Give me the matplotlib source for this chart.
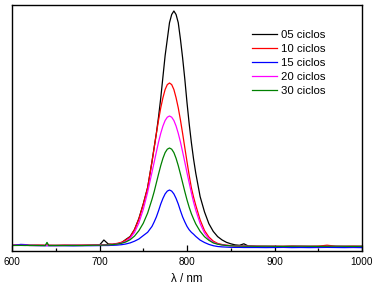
import matplotlib
matplotlib.use("Agg")
import matplotlib.pyplot as plt
from matplotlib.ticker import MultipleLocator

plt.rcParams['font.family'] = ['Liberation Sans', 'DejaVu Sans']

wavelength = [600, 610, 615, 620, 630, 638, 640, 642, 650, 660, 670, 680, 690,
              700, 705, 710, 715, 720, 725, 730, 735, 740, 745, 750, 755, 760,
              762.5, 765, 767.5, 770, 772.5, 775, 777.5, 780, 782.5, 785, 787.5, 790,
              792.5, 795, 797.5, 800, 802.5, 805, 807.5,
              810, 815, 820, 825, 830, 835, 840, 845, 850, 855, 860, 865, 870,
              880, 890, 900, 910, 920, 930, 940, 950, 960, 970, 980, 990, 1000]

c05 = [0.6, 0.8, 0.7, 0.5, 0.6, 0.5, 0.6, 0.5, 0.4, 0.6, 0.5, 0.6, 0.7,
       0.9, 6.0, 2.0, 1.6, 2.1, 3.1, 6.5, 9.5, 16.5, 27.5, 42.0, 58.5, 84.5,
       98.7, 112.8, 129.3, 148.0, 169.2, 190.4, 206.8, 223.3, 231.5, 235.0, 231.5, 223.3,
       206.8, 188.0, 166.9, 143.4, 122.2, 103.4, 87.0,
       72.9, 49.4, 34.1, 22.3, 14.6, 9.4, 6.1, 3.7, 2.2, 1.1, 0.7, 2.2, 0.0,
       -0.4, -0.5, -0.6, -0.5, -0.4, -0.6, -0.5, -0.4, -0.5, -0.6, -0.5, -0.4, -0.5]

c10 = [0.9, 1.0, 1.1, 0.8, 0.9, 0.8, 0.9, 0.8, 0.7, 0.9, 0.8, 0.9, 1.0,
       1.1, 1.3, 1.5, 1.9, 2.6, 3.7, 6.0, 9.0, 16.3, 26.9, 41.6, 58.2, 84.3,
       98.3, 112.5, 126.0, 138.2, 148.3, 156.5, 161.4, 163.0, 161.4, 156.5, 148.3, 138.2,
       126.0, 112.5, 98.3, 84.3, 70.7, 58.2, 48.9,
       40.8, 26.1, 15.5, 9.0, 4.9, 2.6, 1.5, 0.8, 0.4, 0.2, 0.0, -0.1, -0.2,
       -0.2, -0.3, -0.2, -0.3, -0.1, -0.2, -0.3, -0.2, 0.8, -0.2, -0.3, -0.2, -0.3]

c15 = [0.4, 1.6, 1.4, 0.6, 0.4, 0.3, 0.4, 0.3, 0.4, 0.3, 0.2, 0.3, 0.3,
       0.4, 0.5, 0.5, 0.7, 0.9, 1.3, 2.0, 3.1, 4.8, 7.0, 10.4, 13.7, 19.6,
       24.1, 29.1, 35.3, 42.0, 47.6, 52.1, 54.9, 56.0, 54.9, 52.1, 47.6, 42.0,
       35.3, 29.1, 24.1, 19.6, 16.2, 13.7, 11.8,
       9.6, 5.9, 3.5, 1.6, 0.3, -0.5, -0.9, -1.1, -1.3, -1.4, -1.4, -1.5, -1.5,
       -1.5, -1.6, -1.5, -1.4, -1.6, -1.5, -1.6, -1.5, -1.4, -1.5, -1.6, -1.5, -1.6]

c20 = [0.6, 0.7, 0.8, 0.6, 0.5, 0.6, 0.5, 0.6, 0.5, 0.6, 0.7, 0.6, 0.7,
       0.9, 1.0, 1.2, 1.5, 2.0, 2.9, 4.5, 7.8, 13.6, 23.1, 36.5, 53.8, 73.9,
       83.9, 94.1, 104.0, 112.7, 120.0, 125.5, 128.8, 130.0, 128.8, 125.5, 120.0, 112.7,
       104.0, 94.1, 83.9, 73.3, 63.1, 53.2, 43.9,
       35.9, 22.5, 13.0, 7.2, 3.6, 2.0, 1.1, 0.6, 0.3, 0.1, 0.0, -0.1, -0.2,
       -0.3, -0.4, -0.3, -0.5, -0.4, -0.3, -0.4, -0.5, -0.4, -0.3, -0.4, -0.5, -0.4]

c30 = [0.5, 0.6, 0.5, 0.6, 0.5, 0.5, 3.6, 0.5, 0.6, 0.5, 0.6, 0.5, 0.7,
       0.8, 0.9, 1.1, 1.4, 1.9, 2.7, 4.0, 6.3, 9.9, 15.3, 22.7, 32.9, 46.7,
       54.4, 63.2, 72.0, 80.4, 87.7, 93.4, 96.8, 98.0, 96.8, 93.4, 87.7, 80.4,
       72.0, 63.2, 54.4, 46.1, 38.7, 32.3, 27.0,
       22.1, 14.7, 9.3, 5.7, 3.1, 1.8, 1.0, 0.5, 0.2, 0.0, -0.1, -0.2, -0.2,
       -0.3, -0.2, -0.3, -0.4, -0.3, -0.2, -0.3, -0.4, -0.3, -0.2, -0.3, -0.4, -0.3]

series = [("05 ciclos", c05, "black"),
          ("10 ciclos", c10, "#ff0000"),
          ("15 ciclos", c15, "#0000ff"),
          ("20 ciclos", c20, "#ff00ff"),
          ("30 ciclos", c30, "#008000")]

fig = plt.figure(figsize=(3.78, 2.90), dpi=100)
ax = fig.add_axes([12 / 378, 1 - 251 / 290, 350 / 378, 246 / 290])

for label, vals, col in series:
    ax.plot(wavelength, vals, color=col, lw=0.9, label=label)

ax.set_xlim(600, 1000)
ax.set_ylim(-5, 241)
ax.xaxis.set_major_locator(MultipleLocator(100))
ax.xaxis.set_minor_locator(MultipleLocator(50))
ax.set_yticks([])
ax.tick_params(axis='x', which='major', direction='in', length=4, width=0.9,
               labelsize=7.2, pad=4, top=False)
ax.tick_params(axis='x', which='minor', direction='in', length=2.5, width=0.9, top=False)
for s in ax.spines.values():
    s.set_linewidth(1.0)
ax.set_xlabel("λ / nm", fontsize=8.3, labelpad=5)

leg = ax.legend(loc='upper left', bbox_to_anchor=(0.686, 0.899), frameon=False,
                fontsize=8.2, handlelength=2.2, handletextpad=0.3,
                labelspacing=0.36, borderpad=0, borderaxespad=0)

fig.savefig("out.png", dpi=100)
